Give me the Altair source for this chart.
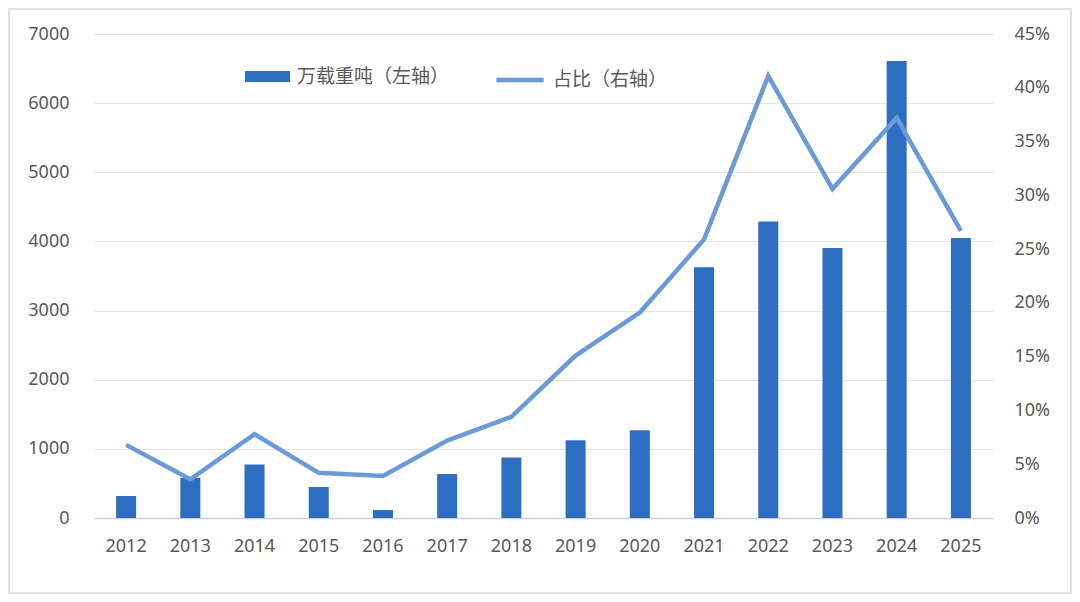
import altair as alt
import pandas as pd

years = [str(y) for y in range(2012, 2026)]
tonnage = [318, 579, 775, 448, 116, 636, 875, 1125, 1268, 3625, 4290, 3905, 6610, 4050]
share = [0.068, 0.036, 0.078, 0.042, 0.039, 0.072, 0.094, 0.151, 0.191, 0.259, 0.411, 0.306, 0.372, 0.267]

bar_name = "万载重吨（左轴）"
line_name = "占比（右轴）"

df = pd.DataFrame({"year": years, "tonnage": tonnage, "share": share,
                   "s1": bar_name, "s2": line_name})

FONT = "Noto Sans"
CJK = "Noto Sans CJK SC"
GRAY = "#595959"
BAR = "#2E6EC2"
LINE = "#6A9AD8"

x = alt.X("year:N", title=None, scale=alt.Scale(paddingInner=0.69, paddingOuter=0.345),
          axis=alt.Axis(labelAngle=0, labelFont=FONT, labelFontSize=18, labelColor=GRAY,
                        labelPadding=19, ticks=False, domainColor="#d0d0d0", domainWidth=1.3,
                        grid=False))

bars = alt.Chart(df).mark_bar(size=20).encode(
    x=x,
    y=alt.Y("tonnage:Q", title=None,
            scale=alt.Scale(domain=[0, 7000], nice=False),
            axis=alt.Axis(values=list(range(0, 7001, 1000)), format="d", orient="left",
                          labelFont=FONT, labelFontSize=18, labelColor=GRAY,
                          labelPadding=25, ticks=False, domain=False,
                          gridColor="#e3e3e3", gridWidth=1.2)),
    fill=alt.Fill("s1:N", scale=alt.Scale(range=[BAR]),
                  legend=alt.Legend(title=None, orient="none", legendX=151, legendY=20,
                                    symbolType="M-1,-0.24H1V0.24H-1Z", symbolSize=2025,
                                    symbolStrokeWidth=0, labelFont=CJK, labelFontSize=19,
                                    labelColor=GRAY, labelOffset=7, padding=0)),
)

line = alt.Chart(df).mark_line(strokeWidth=4.5, strokeJoin="miter", strokeCap="butt").encode(
    x=x,
    y=alt.Y("share:Q", title=None,
            scale=alt.Scale(domain=[0, 0.45], nice=False),
            axis=alt.Axis(values=[i * 0.05 for i in range(10)], format=".0%", orient="right",
                          labelFont=FONT, labelFontSize=18, labelColor=GRAY,
                          labelPadding=21, ticks=False, domain=False, grid=False)),
    stroke=alt.Stroke("s2:N", scale=alt.Scale(range=[LINE]),
                      legend=alt.Legend(title=None, orient="none", legendX=400, legendY=20,
                                        symbolType="stroke", symbolSize=2250,
                                        symbolStrokeWidth=4.5, labelFont=CJK, labelFontSize=19,
                                        labelColor=GRAY, labelOffset=7, padding=0)),
)

frame = alt.Chart(pd.DataFrame({"k": [0]})).mark_rect(
    filled=False, stroke="#d9d9d9", strokeWidth=1.5, opacity=1
).encode(
    x=alt.value(-85), x2=alt.value(977), y=alt.value(-25), y2=alt.value(559)
)

chart = alt.layer(frame, bars, line).resolve_scale(
    y="independent", fill="independent", stroke="independent"
).properties(
    width=899, height=484,
    padding={"left": 86, "top": 26, "right": 79, "bottom": 76},
    autosize=alt.AutoSizeParams(type="none"),
    background="white",
).configure_view(stroke=None)

chart.save("out.html", embed_options={"renderer": "svg", "actions": False})
